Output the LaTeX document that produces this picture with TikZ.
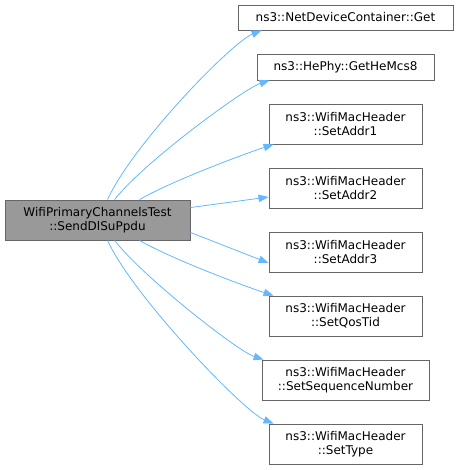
\documentclass[tikz,border=0pt]{standalone}
\usepackage{fontspec}
\setmainfont{DejaVu Sans}
\usetikzlibrary{arrows.meta}
\definecolor{edgeblue}{HTML}{63B8FF}
\definecolor{boxgray}{HTML}{666666}
\definecolor{mainfill}{HTML}{999999}
\begin{document}
\begin{tikzpicture}[x=1pt,y=-1pt,
  box/.style={draw=boxgray, fill=white, line width=0.9pt, inner sep=0pt, align=center,
    font=\fontsize{12}{14}\selectfont, text=black},
  mainbox/.style={box, fill=mainfill},
  call/.style={draw=edgeblue, line width=0.8pt, -{Triangle[length=10pt,width=7.5pt]}}]
\useasboundingbox (0,0) rectangle (459,470);
\node[mainbox, minimum width=185pt, minimum height=40pt] (main) at (97.5,220) {WifiPrimaryChannelsTest\\::SendDlSuPpdu};
\node[box, minimum width=215pt, minimum height=25pt] (get) at (345.5,17.5) {ns3::NetDeviceContainer::Get};
\node[box, minimum width=177pt, minimum height=26pt] (mcs) at (345.5,67) {ns3::HePhy::GetHeMcs8};
\node[box, minimum width=153pt, minimum height=40pt] (a1) at (345.5,124) {ns3::WifiMacHeader\\::SetAddr1};
\node[box, minimum width=153pt, minimum height=40pt] (a2) at (345.5,188) {ns3::WifiMacHeader\\::SetAddr2};
\node[box, minimum width=153pt, minimum height=40pt] (a3) at (345.5,252) {ns3::WifiMacHeader\\::SetAddr3};
\node[box, minimum width=153pt, minimum height=40pt] (qos) at (345.5,316) {ns3::WifiMacHeader\\::SetQosTid};
\node[box, minimum width=167pt, minimum height=40pt] (seq) at (345.5,380) {ns3::WifiMacHeader\\::SetSequenceNumber};
\node[box, minimum width=153pt, minimum height=40pt] (typ) at (345.5,444) {ns3::WifiMacHeader\\::SetType};

\draw[call] ([xshift=103pt]main.north west) .. controls +(25,-55) and +(-30,12) .. ([xshift=24pt]get.south west);
\draw[call] ([xshift=110pt]main.north west) .. controls +(30,-38) and +(-25,8) .. ([xshift=13pt]mcs.south west);
\draw[call] ([xshift=135pt]main.north west) .. controls +(35,-20) and +(-25,8) .. ([xshift=5pt]a1.south west);
\draw[call] ([yshift=-8pt]main.north east) -- ([yshift=-9pt]a2.west);
\draw[call] ([yshift=8pt]main.south east) -- ([yshift=-11pt]a3.west);
\draw[call] ([xshift=135pt]main.south west) .. controls +(35,20) and +(-25,-8) .. ([xshift=5pt]qos.north west);
\draw[call] ([xshift=110pt]main.south west) .. controls +(30,38) and +(-25,-8) .. ([xshift=2pt]seq.north west);
\draw[call] ([xshift=103pt]main.south west) .. controls +(25,55) and +(-30,-12) .. ([xshift=5pt]typ.north west);
\end{tikzpicture}
\end{document}
